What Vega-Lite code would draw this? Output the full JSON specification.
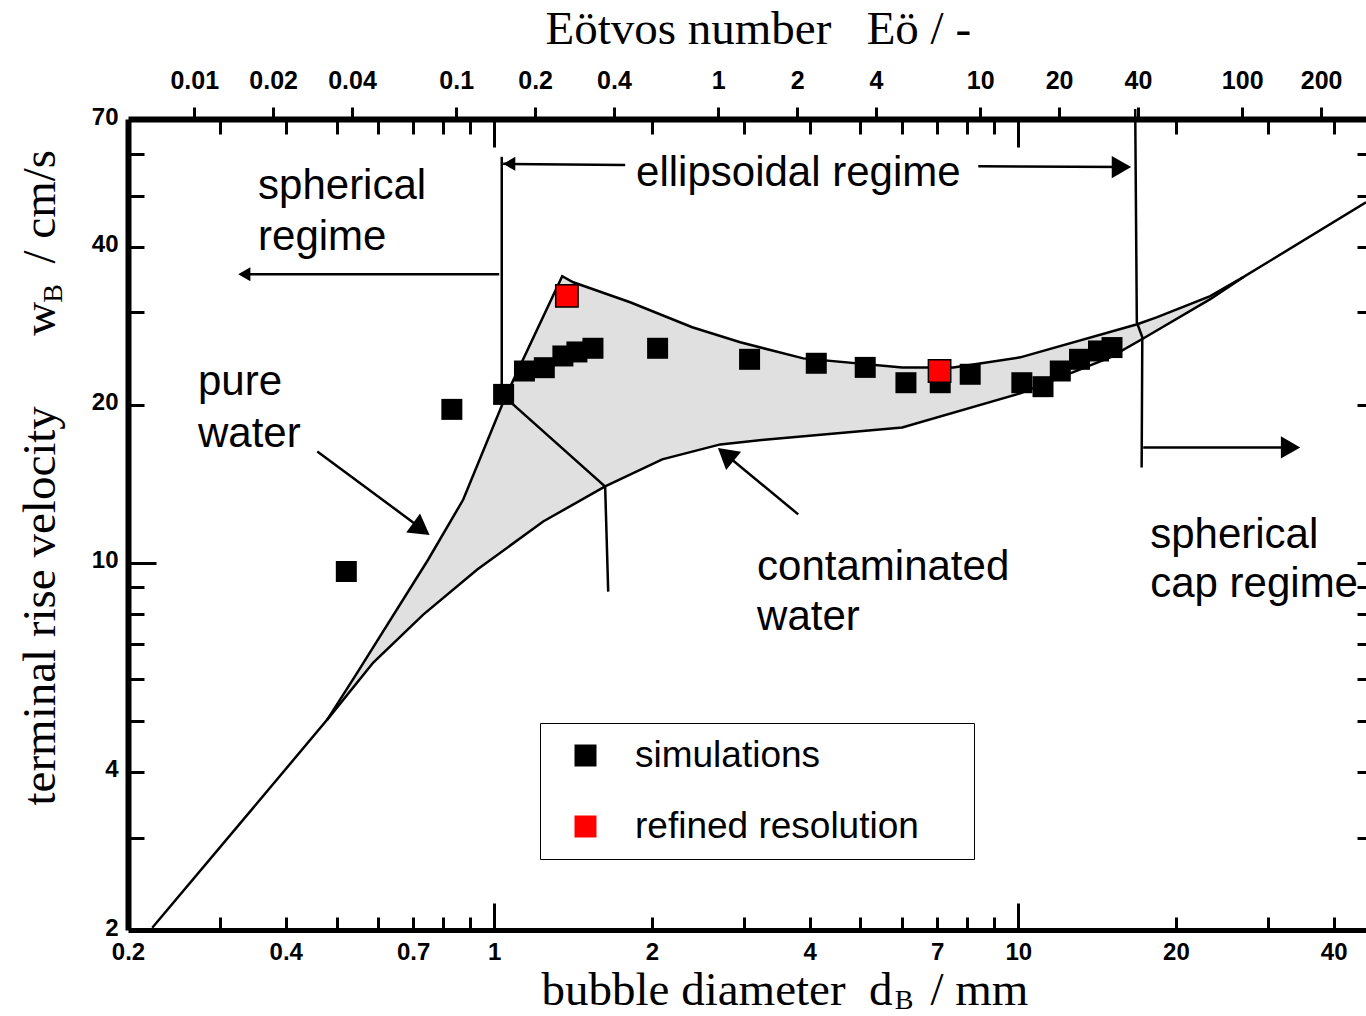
{
  "$schema": "https://vega.github.io/schema/vega-lite/v6.json",
  "width": 1238,
  "height": 811,
  "autosize": {"type": "none"},
  "padding": {"left": 128, "top": 119, "right": 0, "bottom": 86},
  "config": {"view": {"stroke": null}, "font": "Liberation Sans"},
  "datasets": {
    "band": [
      {"d": 0.480, "v": 5.03, "v2": 5.03},
      {"d": 0.548, "v": 6.18, "v2": 5.92},
      {"d": 0.588, "v": 6.91, "v2": 6.46},
      {"d": 0.732, "v": 9.80, "v2": 7.97},
      {"d": 0.748, "v": 10.15, "v2": 8.12},
      {"d": 0.873, "v": 13.20, "v2": 9.23},
      {"d": 0.928, "v": 15.33, "v2": 9.71},
      {"d": 1.050, "v": 20.66, "v2": 10.62},
      {"d": 1.240, "v": 29.44, "v2": 11.99},
      {"d": 1.348, "v": 35.14, "v2": 12.57},
      {"d": 1.415, "v": 34.22, "v2": 12.91},
      {"d": 1.628, "v": 32.58, "v2": 13.98},
      {"d": 1.817, "v": 31.35, "v2": 14.72},
      {"d": 2.092, "v": 29.62, "v2": 15.74},
      {"d": 2.387, "v": 28.09, "v2": 16.29},
      {"d": 2.700, "v": 27.02, "v2": 16.81},
      {"d": 2.948, "v": 26.30, "v2": 16.96},
      {"d": 3.319, "v": 25.52, "v2": 17.18},
      {"d": 3.888, "v": 24.51, "v2": 17.42},
      {"d": 6.006, "v": 23.56, "v2": 18.11},
      {"d": 7.516, "v": 23.56, "v2": 19.32},
      {"d": 10.09, "v": 24.62, "v2": 21.03},
      {"d": 14.98, "v": 27.52, "v2": 24.62},
      {"d": 16.87, "v": 28.47, "v2": 26.36},
      {"d": 17.48, "v": 28.82, "v2": 26.89},
      {"d": 18.42, "v": 29.36, "v2": 27.73},
      {"d": 23.25, "v": 32.19, "v2": 31.77},
      {"d": 26.88, "v": 34.99, "v2": 34.99}
    ],
    "pure": [
      {"d": 0.2225, "v": 2.02}, {"d": 0.3529, "v": 3.49}, {"d": 0.4801, "v": 5.03},
      {"d": 0.5478, "v": 6.18}, {"d": 0.7482, "v": 10.15}, {"d": 0.8726, "v": 13.20},
      {"d": 1.0495, "v": 20.66}, {"d": 1.348, "v": 35.14}, {"d": 1.415, "v": 34.22},
      {"d": 1.817, "v": 31.35}, {"d": 2.387, "v": 28.09}, {"d": 2.948, "v": 26.30},
      {"d": 3.888, "v": 24.51}, {"d": 6.006, "v": 23.56}, {"d": 7.516, "v": 23.56},
      {"d": 10.09, "v": 24.62}, {"d": 16.87, "v": 28.47}, {"d": 18.42, "v": 29.36},
      {"d": 23.25, "v": 32.19}, {"d": 26.88, "v": 34.99}, {"d": 46.1, "v": 48.6}
    ],
    "cont": [
      {"d": 0.4801, "v": 5.03}, {"d": 0.5877, "v": 6.46}, {"d": 0.7320, "v": 7.97},
      {"d": 0.9281, "v": 9.71}, {"d": 1.240, "v": 11.99}, {"d": 1.628, "v": 13.98},
      {"d": 2.092, "v": 15.74}, {"d": 2.700, "v": 16.81}, {"d": 3.319, "v": 17.18},
      {"d": 6.006, "v": 18.11}, {"d": 10.09, "v": 21.03}, {"d": 14.98, "v": 24.62},
      {"d": 17.48, "v": 26.89}, {"d": 23.25, "v": 31.77}, {"d": 26.88, "v": 34.99}
    ],
    "sims": [
      {"type": "simulations", "d": 0.522, "v": 9.63},
      {"type": "simulations", "d": 0.830, "v": 19.60},
      {"type": "simulations", "d": 1.042, "v": 20.93},
      {"type": "simulations", "d": 1.142, "v": 23.19},
      {"type": "simulations", "d": 1.246, "v": 23.53},
      {"type": "simulations", "d": 1.352, "v": 24.77},
      {"type": "simulations", "d": 1.438, "v": 25.21},
      {"type": "simulations", "d": 1.543, "v": 25.62},
      {"type": "simulations", "d": 2.050, "v": 25.62},
      {"type": "simulations", "d": 3.071, "v": 24.41},
      {"type": "simulations", "d": 4.117, "v": 23.99},
      {"type": "simulations", "d": 5.105, "v": 23.56},
      {"type": "simulations", "d": 6.105, "v": 22.03},
      {"type": "simulations", "d": 7.098, "v": 22.03},
      {"type": "simulations", "d": 8.097, "v": 22.86},
      {"type": "simulations", "d": 10.16, "v": 22.03},
      {"type": "simulations", "d": 11.15, "v": 21.65},
      {"type": "simulations", "d": 12.03, "v": 23.19},
      {"type": "simulations", "d": 13.09, "v": 24.41},
      {"type": "simulations", "d": 14.23, "v": 25.32},
      {"type": "simulations", "d": 15.10, "v": 25.70},
      {"type": "refined resolution", "d": 1.376, "v": 32.23},
      {"type": "refined resolution", "d": 7.077, "v": 23.19}
    ],
    "guides": [
      {"g": "g1", "o": 1, "d": 1.0335, "v": 59.3}, {"g": "g1", "o": 2, "d": 1.0335, "v": 20.9},
      {"g": "g2", "o": 1, "d": 1.022, "v": 35.45}, {"g": "g2", "o": 2, "d": 0.3347, "v": 35.45},
      {"g": "g3", "o": 1, "d": 1.040, "v": 57.5}, {"g": "g3", "o": 2, "d": 1.778, "v": 57.2},
      {"g": "g4", "o": 1, "d": 8.389, "v": 56.9}, {"g": "g4", "o": 2, "d": 16.2, "v": 56.7},
      {"g": "g5", "o": 1, "d": 16.72, "v": 73.1}, {"g": "g5", "o": 2, "d": 16.84, "v": 28.72},
      {"g": "g5", "o": 3, "d": 17.25, "v": 26.89}, {"g": "g5", "o": 4, "d": 17.20, "v": 15.19},
      {"g": "g6", "o": 1, "d": 17.32, "v": 16.59}, {"g": "g6", "o": 2, "d": 33.78, "v": 16.59},
      {"g": "g7", "o": 1, "d": 1.0495, "v": 20.66}, {"g": "g7", "o": 2, "d": 1.628, "v": 13.98},
      {"g": "g7", "o": 3, "d": 1.650, "v": 8.815},
      {"g": "g8", "o": 1, "d": 0.4595, "v": 16.30}, {"g": "g8", "o": 2, "d": 0.7384, "v": 11.48},
      {"g": "g9", "o": 1, "d": 3.803, "v": 12.37}, {"g": "g9", "o": 2, "d": 2.723, "v": 16.30}
    ],
    "heads": [
      {"kind": "smallLeft", "d": 0.3334, "v": 35.45},
      {"kind": "smallLeft", "d": 1.068, "v": 57.5},
      {"kind": "bigRight", "d": 15.74, "v": 56.7},
      {"kind": "bigRight", "d": 33.09, "v": 16.59},
      {"kind": "pureHead", "d": 0.7259, "v": 11.60},
      {"kind": "contHead", "d": 2.766, "v": 16.09}
    ],
    "notes": [
      {"t": "spherical", "d": 0.3542, "v": 49.3},
      {"t": "regime", "d": 0.3542, "v": 39.4},
      {"t": "ellipsoidal regime", "d": 1.865, "v": 52.2},
      {"t": "pure", "d": 0.272, "v": 20.87},
      {"t": "water", "d": 0.272, "v": 16.62},
      {"t": "contaminated", "d": 3.174, "v": 9.277},
      {"t": "water", "d": 3.174, "v": 7.452},
      {"t": "spherical", "d": 17.86, "v": 10.68},
      {"t": "cap regime", "d": 17.86, "v": 8.61}
    ],
    "subY": [{"t": "B", "d": 0.1496, "v": 32.6}],
    "subX": [{"t": "B", "d": 6.056, "v": 1.415}]
  },
  "resolve": {
    "scale": {"x": "independent", "y": "independent"},
    "axis": {"x": "independent", "y": "independent"}
  },
  "layer": [
    {
      "encoding": {
        "x": {
          "field": "d", "type": "quantitative",
          "scale": {"type": "log", "domain": [0.2, 46.1]},
          "axis": {
            "orient": "bottom",
            "values": [0.2, 0.4, 0.7, 1, 2, 4, 7, 10, 20, 40],
            "format": "~g",
            "ticks": false,
            "grid": false,
            "domain": true, "domainColor": "black", "domainWidth": 5,
            "labelFlush": false, "labelOverlap": false,
            "labelFont": "Liberation Sans", "labelFontWeight": "bold", "labelFontSize": 24,
            "labelColor": "black", "labelPadding": 10,
            "title": "bubble diameter\u00a0\u00a0d",
            "titleFont": "Liberation Serif", "titleFontSize": 47, "titleFontWeight": "normal",
            "titleColor": "black", "titleAlign": "left", "titleBaseline": "alphabetic",
            "titleX": 413, "titleY": 74
          }
        },
        "y": {
          "field": "v", "type": "quantitative",
          "scale": {"type": "log", "domain": [2, 70]},
          "axis": {
            "orient": "left",
            "values": [2, 4, 10, 20, 40, 70],
            "format": "~g",
            "ticks": false,
            "grid": false,
            "domain": true, "domainColor": "black", "domainWidth": 6,
            "labelFlush": false, "labelOverlap": false,
            "labelFont": "Liberation Sans", "labelFontWeight": "bold", "labelFontSize": 24,
            "labelColor": "black", "labelPadding": 10, "labelOffset": -2,
            "title": "terminal rise velocity\u00a0\u00a0\u00a0\u00a0\u00a0\u00a0w",
            "titleFont": "Liberation Serif", "titleFontSize": 47, "titleFontWeight": "normal",
            "titleColor": "black", "titleAngle": 270, "titleAlign": "left", "titleBaseline": "alphabetic",
            "titleX": -74, "titleY": 686
          }
        }
      },
      "layer": [
        {
          "data": {"name": "band"},
          "mark": {"type": "area", "color": "#e0e0e0", "opacity": 1},
          "encoding": {"y2": {"field": "v2"}}
        },
        {
          "data": {"name": "pure"},
          "mark": {"type": "line", "color": "black", "strokeWidth": 2.5},
          "encoding": {}
        },
        {
          "data": {"name": "cont"},
          "mark": {"type": "line", "color": "black", "strokeWidth": 2.5},
          "encoding": {}
        },
        {
          "data": {"name": "guides"},
          "mark": {"type": "line", "color": "black", "strokeWidth": 2.5},
          "encoding": {
            "detail": {"field": "g", "type": "nominal"},
            "order": {"field": "o", "type": "quantitative"}
          }
        },
        {
          "data": {"name": "sims"},
          "transform": [{"filter": "datum.type == 'simulations'"}],
          "mark": {"type": "point", "shape": "square", "filled": true, "size": 441, "opacity": 1},
          "encoding": {
            "color": {
              "field": "type", "type": "nominal",
              "scale": {"domain": ["simulations", "refined resolution"], "range": ["#000000", "#ff0000"]},
              "legend": {
                "orient": "none", "legendX": 412, "legendY": 604,
                "title": null,
                "symbolType": "square", "symbolSize": 484, "symbolStrokeWidth": 0,
                "labelFont": "Liberation Sans", "labelFontSize": 37, "labelColor": "black",
                "labelOffset": 31, "symbolOffset": 13, "labelLimit": 600,
                "padding": 14, "rowPadding": 33,
                "strokeColor": "black",
                "labelExpr": "datum.label + '\u00a0\u00a0\u00a0\u00a0\u200b'"
              }
            }
          }
        },
        {
          "data": {"name": "sims"},
          "transform": [{"filter": "datum.type == 'refined resolution'"}],
          "mark": {"type": "point", "shape": "square", "filled": true, "size": 500, "opacity": 1, "stroke": "black", "strokeWidth": 1.5},
          "encoding": {
            "color": {"field": "type", "type": "nominal"}
          }
        },
        {
          "data": {"name": "heads"},
          "transform": [{"filter": "datum.kind == 'smallLeft'"}],
          "mark": {"type": "point", "shape": "triangle-left", "filled": true, "size": 196, "color": "black", "opacity": 1},
          "encoding": {}
        },
        {
          "data": {"name": "heads"},
          "transform": [{"filter": "datum.kind == 'bigRight'"}],
          "mark": {"type": "point", "shape": "triangle-right", "filled": true, "size": 500, "color": "black", "opacity": 1},
          "encoding": {}
        },
        {
          "data": {"name": "heads"},
          "transform": [{"filter": "datum.kind == 'pureHead'"}],
          "mark": {"type": "point", "shape": "triangle-right", "filled": true, "size": 550, "angle": 36, "color": "black", "opacity": 1},
          "encoding": {}
        },
        {
          "data": {"name": "heads"},
          "transform": [{"filter": "datum.kind == 'contHead'"}],
          "mark": {"type": "point", "shape": "triangle-right", "filled": true, "size": 550, "angle": 219.6, "color": "black", "opacity": 1},
          "encoding": {}
        },
        {
          "data": {"name": "notes"},
          "mark": {"type": "text", "font": "Liberation Sans", "fontSize": 42, "align": "left", "baseline": "alphabetic", "color": "black"},
          "encoding": {"text": {"field": "t"}}
        },
        {
          "data": {"name": "subY"},
          "mark": {"type": "text", "font": "Liberation Serif", "fontSize": 28, "align": "center", "baseline": "alphabetic", "angle": 270, "color": "black"},
          "encoding": {"text": {"field": "t"}}
        },
        {
          "data": {"name": "subX"},
          "mark": {"type": "text", "font": "Liberation Serif", "fontSize": 28, "align": "center", "baseline": "alphabetic", "color": "black"},
          "encoding": {"text": {"field": "t"}}
        }
      ]
    },
    {
      "data": {"values": [{"d": 1}]},
      "mark": {"type": "point", "opacity": 0},
      "encoding": {
        "x": {
          "field": "d", "type": "quantitative",
          "scale": {"type": "log", "domain": [0.2, 46.1]},
          "axis": {
            "orient": "bottom",
            "values": [0.3, 0.4, 0.5, 0.6, 0.7, 0.8, 0.9, 1, 2, 3, 4, 5, 6, 7, 8, 9, 10, 20, 30, 40],
            "labels": false, "domain": false, "grid": false,
            "tickColor": "black", "tickWidth": 3,
            "tickSize": {"condition": {"test": "datum.value == 1 || datum.value == 10", "value": -27}, "value": -13},
            "title": "/ mm",
            "titleFont": "Liberation Serif", "titleFontSize": 47, "titleFontWeight": "normal",
            "titleColor": "black", "titleAlign": "left", "titleBaseline": "alphabetic",
            "titleX": 802, "titleY": 74
          }
        }
      }
    },
    {
      "data": {"values": [{"d": 1}]},
      "mark": {"type": "point", "opacity": 0},
      "encoding": {
        "x": {
          "field": "d", "type": "quantitative",
          "scale": {"type": "log", "domain": [0.2, 46.1]},
          "axis": {
            "orient": "top",
            "values": [0.3, 0.4, 0.5, 0.6, 0.7, 0.8, 0.9, 1, 2, 3, 4, 5, 6, 7, 8, 9, 10, 20, 30, 40],
            "labels": false, "grid": false, "title": null,
            "domain": true, "domainColor": "black", "domainWidth": 6,
            "tickColor": "black", "tickWidth": 3,
            "tickSize": {"condition": {"test": "datum.value == 1 || datum.value == 10", "value": -28}, "value": -15}
          }
        }
      }
    },
    {
      "data": {"values": [{"e": 1}]},
      "mark": {"type": "point", "opacity": 0},
      "encoding": {
        "x": {
          "field": "e", "type": "quantitative",
          "scale": {"type": "log", "domain": [0.005586, 296.8]},
          "axis": {
            "orient": "top",
            "values": [0.01, 0.02, 0.04, 0.1, 0.2, 0.4, 1, 2, 4, 10, 20, 40, 100, 200],
            "format": "~g",
            "domain": false, "grid": false,
            "tickColor": "black", "tickWidth": 3, "tickSize": 12,
            "labelFlush": false, "labelOverlap": false,
            "labelFont": "Liberation Sans", "labelFontWeight": "bold", "labelFontSize": 25,
            "labelColor": "black", "labelPadding": 14,
            "title": "Eötvos number\u00a0\u00a0\u00a0Eö / -",
            "titleFont": "Liberation Serif", "titleFontSize": 47, "titleFontWeight": "normal",
            "titleColor": "black", "titleAlign": "left", "titleBaseline": "alphabetic",
            "titleX": 417, "titleY": -76
          }
        }
      }
    },
    {
      "data": {"values": [{"v": 10}]},
      "mark": {"type": "point", "opacity": 0},
      "encoding": {
        "y": {
          "field": "v", "type": "quantitative",
          "scale": {"type": "log", "domain": [2, 70]},
          "axis": {
            "orient": "left",
            "values": [3, 4, 5, 6, 7, 8, 9, 10, 20, 30, 40, 50, 60],
            "labels": false, "domain": false, "grid": false,
            "tickColor": "black", "tickWidth": 3,
            "tickSize": {"condition": {"test": "datum.value == 10", "value": -28}, "value": -16},
            "title": "/ cm/s",
            "titleFont": "Liberation Serif", "titleFontSize": 47, "titleFontWeight": "normal",
            "titleColor": "black", "titleAngle": 270, "titleAlign": "left", "titleBaseline": "alphabetic",
            "titleX": -74, "titleY": 144
          }
        }
      }
    },
    {
      "data": {"values": [{"v": 10}]},
      "mark": {"type": "point", "opacity": 0},
      "encoding": {
        "y": {
          "field": "v", "type": "quantitative",
          "scale": {"type": "log", "domain": [2, 70]},
          "axis": {
            "orient": "right",
            "values": [3, 4, 5, 6, 7, 8, 9, 10, 20, 30, 40, 50, 60],
            "labels": false, "domain": false, "grid": false, "title": null,
            "tickColor": "black", "tickWidth": 3, "tickSize": -9
          }
        }
      }
    }
  ]
}
